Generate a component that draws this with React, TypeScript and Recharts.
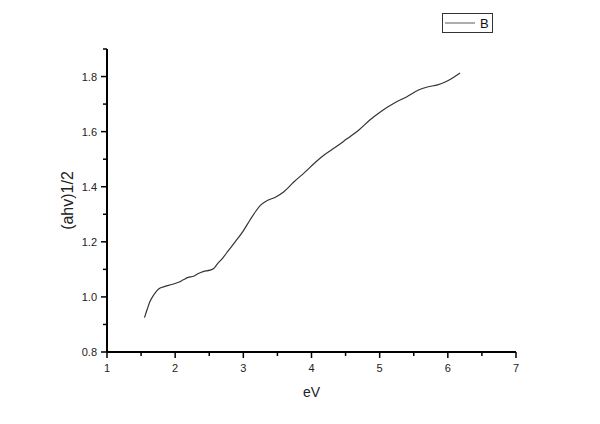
import { LineChart, Line, XAxis, YAxis, Legend } from 'recharts';

// photon energy (eV) and (ahv)^1/2
const energy = [
  1.55, 1.59, 1.63, 1.68, 1.73, 1.78, 1.85, 1.95, 2.05, 2.12, 2.19, 2.27, 2.34, 2.41, 2.51,
  2.56, 2.62, 2.7, 2.78, 2.88, 3.0, 3.1, 3.18, 3.25, 3.35, 3.47, 3.59, 3.74, 3.9, 4.05, 4.18,
  4.35, 4.52, 4.7, 4.86, 5.03, 5.21, 5.4, 5.57, 5.7, 5.85, 5.96, 6.07, 6.18,
];
const seriesB = [
  0.925, 0.955, 0.983, 1.005, 1.022, 1.032, 1.038, 1.045, 1.053, 1.062, 1.071, 1.075, 1.085,
  1.092, 1.097, 1.102, 1.12, 1.142, 1.168, 1.2, 1.24, 1.28, 1.31, 1.332, 1.35, 1.362, 1.381,
  1.417, 1.452, 1.487, 1.514, 1.543, 1.574, 1.607, 1.643, 1.675, 1.703, 1.727, 1.751, 1.762,
  1.77, 1.78, 1.795, 1.813,
];
const xTicks = [1, 1.5, 2, 2.5, 3, 3.5, 4, 4.5, 5, 5.5, 6, 6.5, 7];
const yTicks = [0.8, 0.9, 1.0, 1.1, 1.2, 1.3, 1.4, 1.5, 1.6, 1.7, 1.8, 1.9];
const yMajor = [0.8, 1.0, 1.2, 1.4, 1.6, 1.8];

const data = energy.map((e, i) => ({ eV: e, B: seriesB[i] }));

const font = '"Liberation Sans", Arial, sans-serif';

const XTick = ({ x, y, payload }: any) => {
  const major = Number.isInteger(payload.value);
  return (
    <g>
      <line x1={x} y1={y} x2={x} y2={y + (major ? 6 : 4)} stroke="#000" strokeWidth={1.5} />
      {major && (
        <text x={x} y={y + 20} textAnchor="middle" fontSize={11} fontFamily={font} fill="#222">
          {payload.value}
        </text>
      )}
    </g>
  );
};

const YTick = ({ x, y, payload }: any) => {
  const major = yMajor.some((v) => Math.abs(v - payload.value) < 1e-6);
  return (
    <g>
      <line x1={x} y1={y} x2={x - (major ? 6 : 4)} y2={y} stroke="#000" strokeWidth={1.5} />
      {major && (
        <text x={x - 10} y={y + 4} textAnchor="end" fontSize={11} fontFamily={font} fill="#222">
          {payload.value.toFixed(1)}
        </text>
      )}
    </g>
  );
};

const LegendBox = () => (
  <svg width={51} height={20}>
    <rect x={0.5} y={0.5} width={50} height={19} fill="#fff" stroke="#333" />
    <line x1={3} y1={10} x2={33} y2={10} stroke="#777" strokeWidth={1.2} />
    <text x={38} y={15} fontSize={13} fontFamily={font} fill="#111">
      B
    </text>
  </svg>
);

export default function App() {
  return (
    <div style={{ position: 'absolute', left: 0, top: 0, background: '#fff' }}>
      <LineChart width={600} height={424} data={data} margin={{ top: 49, right: 84, left: 47, bottom: 22 }}>
        <XAxis
          dataKey="eV"
          type="number"
          domain={[1, 7]}
          ticks={xTicks}
          interval={0}
          tickSize={0}
          tickMargin={0}
          tick={<XTick />}
          height={50}
          axisLine={{ stroke: '#000', strokeWidth: 2 }}
          label={{ value: 'eV', position: 'insideBottom', offset: 5, fontSize: 14, fontFamily: font, fill: '#222' }}
        />
        <YAxis
          type="number"
          domain={[0.8, 1.9]}
          ticks={yTicks}
          interval={0}
          tickSize={0}
          tickMargin={0}
          tick={<YTick />}
          width={60}
          allowDataOverflow
          axisLine={{ stroke: '#000', strokeWidth: 2 }}
          label={{
            value: '(ahv)1/2',
            angle: -90,
            position: 'insideLeft',
            offset: 20,
            fontSize: 16,
            fontFamily: font,
            fill: '#222',
            style: { textAnchor: 'middle' },
          }}
        />
        <Legend
          layout="horizontal"
          verticalAlign="middle"
          content={<LegendBox />}
          wrapperStyle={{ left: 442, top: 13, width: 51, height: 20 }}
        />
        <Line
          type="monotone"
          dataKey="B"
          stroke="#333"
          strokeWidth={1.2}
          dot={false}
          isAnimationActive={false}
        />
      </LineChart>
    </div>
  );
}
